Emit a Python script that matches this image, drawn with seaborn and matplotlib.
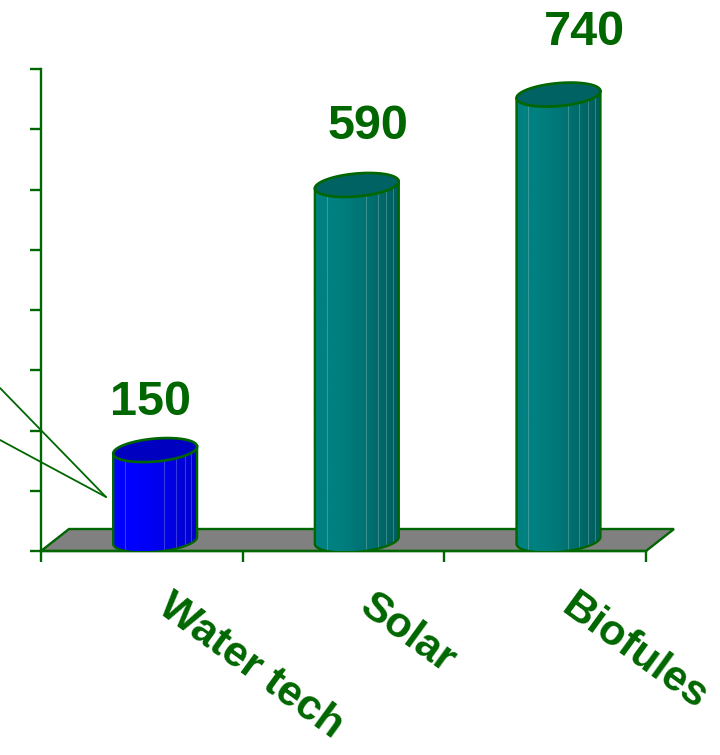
import numpy as np
import matplotlib
matplotlib.use("Agg")
import matplotlib.pyplot as plt
import matplotlib.transforms as mtransforms
import seaborn as sns
from matplotlib.path import Path
from matplotlib.patches import PathPatch, Polygon
from matplotlib.lines import Line2D
from matplotlib.colors import to_rgb

# ---- data -------------------------------------------------------------
categories = ["Water tech", "Solar", "Biofules"]
values = [150, 590, 740]
y_ticks = list(range(0, 801, 100))

# ---- style ------------------------------------------------------------
bar_colors = ["#0000FF", "#008080", "#008080"]
side_dark = ["#0000C8", "#005C5C", "#005C5C"]
top_colors = ["#0000C0", "#006262", "#006262"]
GREEN = "#006600"
FLOOR = "#808080"

sns.set_style("white")
plt.rcParams["font.family"] = ["Liberation Sans", "DejaVu Sans"]

fig = plt.figure(figsize=(7.2, 7.55), dpi=100)
ax = fig.add_axes([41 / 720, (755 - 551) / 755, 605 / 720, 482 / 755])

BAR_W = 0.416
sns.barplot(x=categories, y=values, hue=categories, palette=bar_colors,
            width=BAR_W, saturation=1, legend=False, ax=ax, zorder=3)
bars = list(ax.patches)

ax.set_xlim(-0.5, 2.5)
ax.set_ylim(0, 800)

# pixel -> data scales
px_x = 605 / 3.0          # pixels per category
px_y = 482 / 800.0        # pixels per value unit

# floor depth (pseudo 3-D)
depth_dx = 28 / px_x
depth_dy = 22 / px_y
floor = Polygon([(-0.5, 0), (2.5, 0), (2.5 + depth_dx, depth_dy),
                 (-0.5 + depth_dx, depth_dy)], closed=True,
                facecolor=FLOOR, edgecolor=GREEN, linewidth=1.7,
                clip_on=False, zorder=1)
ax.add_patch(floor)

# cylinder geometry
base = depth_dy * 0.48
shift = 0.066
b = 11.5 / px_y    # ellipse half height
k = 3.5 / px_y     # tilt of the ellipse


def ellipse_xy(cx, cy, a, t):
    return cx + a * np.cos(t), cy + b * np.sin(t) + k * np.cos(t)


facet_fracs = [0.14, 0.61, 0.75, 0.85, 0.93]

for i, p in enumerate(bars):
    p.set_x(p.get_x() + shift)
    p.set_y(base)
    p.set_linewidth(0)
    x0 = p.get_x()
    w = p.get_width()
    a = w / 2
    cx = x0 + a
    top = base + p.get_height()

    t_low = np.linspace(np.pi, 2 * np.pi, 60)
    bx, by = ellipse_xy(cx, base, a, t_low)
    verts = [(cx - a, top - k)] + list(zip(bx, by)) + [(cx + a, top + k), (cx - a, top - k)]
    codes = [Path.MOVETO] + [Path.LINETO] * (len(verts) - 2) + [Path.CLOSEPOLY]
    body = PathPatch(Path(verts, codes), facecolor="none", edgecolor=GREEN,
                     linewidth=1.7, zorder=5)
    ax.add_patch(body)
    p.set_clip_path(body)

    # horizontal shading across the cylinder
    n = 120
    s = np.linspace(0, 1, n)
    prof = np.clip((s - 0.25) / 0.75, 0, 1) ** 1.2
    c0 = np.array(to_rgb(bar_colors[i]))
    c1 = np.array(to_rgb(side_dark[i]))
    grad = (c0[None, :] * (1 - prof[:, None]) + c1[None, :] * prof[:, None])[None, :, :]
    im = ax.imshow(grad, extent=[cx - a, cx + a, base - b - k, top + b + k],
                   aspect="auto", origin="lower", zorder=4, interpolation="bilinear")
    im.set_clip_path(body)

    # facet lines
    for f in facet_fracs:
        ln = ax.plot([x0 + f * w] * 2, [base - b, top + k], color="white",
                     alpha=0.22, lw=0.8, zorder=4.5)[0]
        ln.set_clip_path(body)

    # top cap
    t_all = np.linspace(0, 2 * np.pi, 120)
    tx, ty = ellipse_xy(cx, top, a, t_all)
    cap = Polygon(np.column_stack([tx, ty]), closed=True, facecolor=top_colors[i],
                  edgecolor=GREEN, linewidth=1.9, zorder=6, clip_on=False)
    ax.add_patch(cap)

    # value label
    v = values[i]
    ax.text(i * 1.076 + 0.045, 1.04 * v + 70, str(v), ha="center", va="baseline",
            fontsize=35, fontweight="bold", color=GREEN, clip_on=False, zorder=7)

ax.set_xlim(-0.5, 2.5)
ax.set_ylim(0, 800)

# axes styling
for side in ["top", "right"]:
    ax.spines[side].set_visible(False)
for side in ["left", "bottom"]:
    ax.spines[side].set_color(GREEN)
    ax.spines[side].set_linewidth(1.7)
    ax.spines[side].set_zorder(2)
ax.set_xticks([-0.5, 0.5, 1.5, 2.5])
ax.set_xticklabels([])
ax.set_yticks(y_ticks)
ax.set_yticklabels([])
ax.tick_params(axis="both", direction="out", color=GREEN, width=1.7, length=8,
               bottom=True, left=True, labelbottom=False, labelleft=False)
ax.set_xlabel("")
ax.set_ylabel("")
ax.grid(False)

# rotated category labels
for i, name in enumerate(categories):
    tr = mtransforms.offset_copy(ax.transData, fig=fig, x=0, y=-60, units="dots")
    ax.text(i + 0.069, 0, name, transform=tr, rotation=-36, rotation_mode="anchor",
            ha="left", va="baseline", fontsize=31, fontweight="bold", color=GREEN,
            clip_on=False)

# leader lines entering from the left edge
for y_start in (388, 440):
    fig.add_artist(Line2D([0, 106 / 720], [1 - y_start / 755, 1 - 497 / 755],
                          transform=fig.transFigure, color=GREEN, lw=1.3))

fig.savefig("out.png", dpi=100)
